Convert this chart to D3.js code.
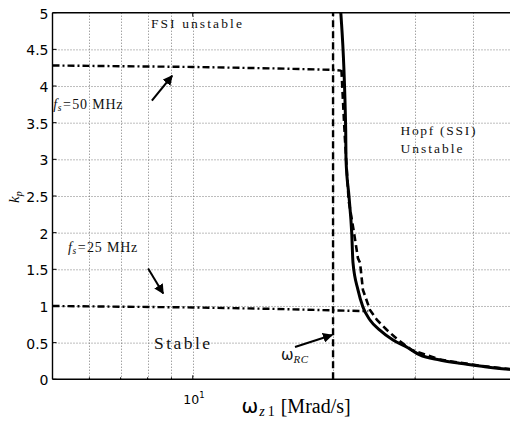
<!DOCTYPE html>
<html>
<head>
<meta charset="utf-8">
<script src="https://cdn.jsdelivr.net/npm/d3@7"></script>
<style>
  html, body { margin: 0; padding: 0; background: #fff; }
  svg { display: block; }
  .tick-label { font-family: "DejaVu Sans", sans-serif; fill: #000; }
  .note { font-family: "Liberation Serif", serif; fill: #111; }
</style>
</head>
<body>
<svg id="chart" width="510" height="430"></svg>
<script>
// Stability boundary: proportional gain k_p vs. zero frequency ω_z1 (Mrad/s)

// Hopf (SSI) boundary, solid
const hopfOmega = [20.6, 20.78, 21.29, 21.32, 21.64, 21.93, 22.07, 22.62, 23.18, 24.0, 25.2, 26.9, 29.0, 30.7, 33.9, 37.4, 41.3, 47.9, 50];
const hopfK     = [5.3,  5.0,   3.40,  3.00,  2.49,  2.00,  1.59,  1.22,  0.986, 0.809, 0.672, 0.536, 0.427, 0.332, 0.264, 0.218, 0.181, 0.136, 0.13];

// Sampled-system boundary, dashed
const sampledOmega = [20.85, 21.0, 21.2, 21.6, 22.18, 22.62, 22.85, 23.18, 24.0, 24.85, 26.1, 27.6, 29.5, 33.9, 41.3, 47.9, 50];
const sampledK     = [4.22,  3.81, 3.30, 2.44, 2.00,  1.65,  1.59,  1.22,  0.946, 0.809, 0.672, 0.536, 0.40, 0.268, 0.185, 0.138, 0.13];

// FSI limits for two sampling frequencies, dash-dot
const fs50Omega = [5, 10, 15, 20, 20.8];
const fs50K     = [4.28, 4.26, 4.24, 4.22, 4.21];
const fs25Omega = [5, 10, 15, 20, 23.8];
const fs25K     = [1.0, 0.98, 0.96, 0.94, 0.93];

// RC corner frequency (vertical dashed line)
const omegaRC = 20;

// Axis ticks
const yTicks = [0, 0.5, 1, 1.5, 2, 2.5, 3, 3.5, 4, 4.5, 5];
const yTickLabels = ["0", "0.5", "1", "1.5", "2", "2.5", "3", "3.5", "4", "4.5", "5"];
const xMinorTicks = [6, 7, 8, 9, 20, 30, 40];
const xMajorTicks = [10];

const svg = d3.select("#chart");
const x = d3.scaleLog().domain([5, 50]).range([52.5, 518.5]);
const y = d3.scaleLinear().domain([0, 5]).range([379.3, 12.7]);

const [x0, x1] = x.range();
const [yb, yt] = y.range();

svg.append("defs").append("clipPath").attr("id", "plot-clip")
  .append("rect").attr("x", x0).attr("y", yt).attr("width", x1 - x0).attr("height", yb - yt);

svg.append("defs").append("marker")
  .attr("id", "arrowhead").attr("viewBox", "0 0 10 10")
  .attr("refX", 9).attr("refY", 5)
  .attr("markerWidth", 5).attr("markerHeight", 5)
  .attr("markerUnits", "strokeWidth")
  .attr("orient", "auto")
  .append("path").attr("d", "M0,0 L10,5 L0,10 z").attr("fill", "#000");

// Dotted grid
const grid = svg.append("g").attr("stroke", "#7a7a7a").attr("stroke-width", 1).attr("stroke-dasharray", "1,2");
grid.selectAll("line.gy").data(yTicks.filter(v => v > 0 && v < 5)).join("line")
  .attr("x1", x0).attr("x2", x1).attr("y1", d => y(d) + 0.5).attr("y2", d => y(d) + 0.5);
grid.selectAll("line.gx").data(xMinorTicks.concat(xMajorTicks)).join("line")
  .attr("x1", d => Math.round(x(d)) + 0.5).attr("x2", d => Math.round(x(d)) + 0.5)
  .attr("y1", yt).attr("y2", yb);

const plot = svg.append("g").attr("clip-path", "url(#plot-clip)");
const line = d3.line().x(d => x(d[0])).y(d => y(d[1]));

// vertical ω_RC line
plot.append("path")
  .attr("d", line([[omegaRC, 0], [omegaRC, 5]]))
  .attr("fill", "none").attr("stroke", "#000").attr("stroke-width", 2.4)
  .attr("stroke-dasharray", "7,4");

// FSI limits
[[fs50Omega, fs50K], [fs25Omega, fs25K]].forEach(([om, k]) => {
  plot.append("path")
    .attr("d", line(d3.zip(om, k)))
    .attr("fill", "none").attr("stroke", "#000").attr("stroke-width", 2.4)
    .attr("stroke-dasharray", "7,3,2,3");
});

// sampled boundary
plot.append("path")
  .attr("d", line(d3.zip(sampledOmega, sampledK)))
  .attr("fill", "none").attr("stroke", "#000").attr("stroke-width", 2.6)
  .attr("stroke-dasharray", "7,4");

// Hopf boundary
plot.append("path")
  .attr("d", d3.line().curve(d3.curveMonotoneX).x(d => x(d[0])).y(d => y(d[1]))(d3.zip(hopfOmega, hopfK)))
  .attr("fill", "none").attr("stroke", "#000").attr("stroke-width", 3);

// Axes spines
const axes = svg.append("g").attr("stroke", "#000").attr("stroke-width", 1.4);
axes.append("line").attr("x1", x0).attr("x2", x1).attr("y1", yb).attr("y2", yb);
axes.append("line").attr("x1", x0).attr("x2", x1).attr("y1", yt).attr("y2", yt);
axes.append("line").attr("x1", x0).attr("x2", x0).attr("y1", yt).attr("y2", yb);

// Inward tick marks
const ticks = svg.append("g").attr("stroke", "#000").attr("stroke-width", 1);
ticks.selectAll("line.ty").data(yTicks).join("line")
  .attr("x1", x0).attr("x2", x0 + 4).attr("y1", d => y(d)).attr("y2", d => y(d));
ticks.selectAll("line.txb").data(xMajorTicks).join("line")
  .attr("x1", d => x(d)).attr("x2", d => x(d)).attr("y1", yb).attr("y2", yb - 4);
ticks.selectAll("line.txt").data(xMajorTicks).join("line")
  .attr("x1", d => x(d)).attr("x2", d => x(d)).attr("y1", yt).attr("y2", yt + 4);
ticks.selectAll("line.mxb").data(xMinorTicks).join("line")
  .attr("x1", d => x(d)).attr("x2", d => x(d)).attr("y1", yb).attr("y2", yb - 2);

// Y tick labels
svg.append("g").selectAll("text").data(yTicks).join("text")
  .attr("class", "tick-label")
  .attr("x", x0 - 4).attr("y", d => y(d) + 6)
  .attr("text-anchor", "end").attr("font-size", 14)
  .text((d, i) => yTickLabels[i]);

// X tick label 10^1
xMajorTicks.forEach(v => {
  const t = svg.append("text").attr("class", "tick-label")
    .attr("x", x(v) - 9.5).attr("y", 403.5).attr("font-size", 12.5);
  t.append("tspan").text("10");
  t.append("tspan").attr("font-size", 8.5).attr("dy", -5.5).text(Math.log10(v));
});

// Axis titles
const xt = svg.append("text").attr("x", 241.5).attr("y", 413).attr("font-size", 20)
  .attr("font-family", "'DejaVu Sans', sans-serif").attr("fill", "#000");
xt.append("tspan").text("ω");
xt.append("tspan").attr("font-family", "'Liberation Serif', serif").attr("font-style", "italic")
  .attr("font-size", 14).attr("dy", 3).attr("dx", 1).text("z");
xt.append("tspan").attr("font-family", "'Liberation Serif', serif")
  .attr("font-size", 14).attr("dx", 3).text("1");
xt.append("tspan").attr("font-family", "'Liberation Serif', serif")
  .attr("font-size", 20).attr("dy", -3).attr("dx", 6).text("[Mrad/s]");

const yl = svg.append("text")
  .attr("transform", "translate(19,203) rotate(-90)")
  .attr("font-family", "'Liberation Serif', serif").attr("font-style", "italic")
  .attr("font-size", 15).attr("fill", "#000");
yl.append("tspan").text("k");
yl.append("tspan").attr("font-size", 10).attr("dy", 3).text("p");

// Region and curve annotations (data coordinates)
const notes = svg.append("g");
function note(om, k, txt, size, width) {
  return notes.append("text").attr("class", "note")
    .attr("x", x(om)).attr("y", y(k)).attr("font-size", size)
    .attr("textLength", width).attr("lengthAdjust", "spacing")
    .text(txt);
}
note(8.13, 4.79, "FSI unstable", 13.5, 91);
note(27.9, 3.33, "Hopf (SSI)", 13.5, 75);
note(27.9, 3.08, "Unstable", 13.5, 62);
note(8.26, 0.42, "Stable", 17.5, 56);

function fsNote(om, k, val) {
  const t = notes.append("text").attr("class", "note")
    .attr("x", x(om)).attr("y", y(k)).attr("font-size", 14);
  t.append("tspan").attr("font-style", "italic").text("f");
  t.append("tspan").attr("font-style", "italic").attr("font-size", 9.5).attr("dy", 2).attr("dx", 0.5).text("s");
  t.append("tspan").attr("dy", -2).attr("dx", 1.5).text("=");
  t.append("tspan").attr("dx", 1.5).attr("letter-spacing", 0.8).text(val + " MHz");
}
fsNote(5.02, 3.69, 50);
fsNote(5.4, 1.73, 25);

const rc = notes.append("text").attr("x", x(15.46)).attr("y", y(0.27))
  .attr("font-family", "'DejaVu Sans', sans-serif").attr("font-size", 15).attr("fill", "#111");
rc.append("tspan").text("ω");
rc.append("tspan").attr("font-family", "'Liberation Serif', serif").attr("font-style", "italic")
  .attr("font-size", 11).attr("dy", 3).attr("letter-spacing", 0.5).text("RC");

// Arrows
const arrows = [
  [[8.17, 3.80], [9.03, 4.14]],
  [[8.02, 1.51], [8.64, 1.17]],
  [[16.57, 0.44], [19.9, 0.605]]
];
svg.append("g").selectAll("path").data(arrows).join("path")
  .attr("d", d => line(d))
  .attr("fill", "none").attr("stroke", "#000").attr("stroke-width", 2)
  .attr("marker-end", "url(#arrowhead)");
</script>
</body>
</html>
